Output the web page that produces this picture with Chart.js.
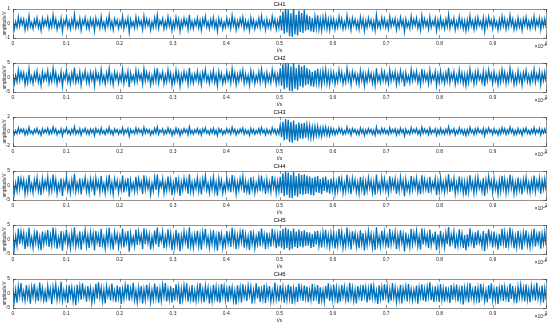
<!DOCTYPE html>
<html>
<head>
<meta charset="utf-8">
<script src="https://cdn.jsdelivr.net/npm/chart.js@4"></script>
<style>
html, body { margin: 0; padding: 0; background: #fff; }
canvas { display: block; }
</style>
</head>
<body>
<canvas id="c1" width="550" height="54"></canvas>
<canvas id="c2" width="550" height="54"></canvas>
<canvas id="c3" width="550" height="54"></canvas>
<canvas id="c4" width="550" height="54"></canvas>
<canvas id="c5" width="550" height="54"></canvas>
<canvas id="c6" width="550" height="54"></canvas>
<script>
// 六チャンネルの波形 (t は 0..1 ×10^-4 s, 400 点)
const ch1 = [
  0.21,-0.38,0.12,-0.27,0.45,-0.18,0.33,-0.09,0.29,-0.42,0.16,-0.31,0.52,-0.22,0.07,-0.35,0.26,-0.14,0.39,-0.28,
  0.11,-0.47,0.34,-0.2,0.23,-0.12,0.41,-0.33,0.18,-0.25,0.58,-0.16,0.3,-0.4,0.09,-0.21,0.36,-0.54,0.2,-0.11,
  0.44,-0.26,0.15,-0.37,0.27,-0.19,0.62,-0.3,0.13,-0.24,0.35,-0.45,0.22,-0.08,0.4,-0.29,0.17,-0.36,0.31,-0.15,
  0.25,-0.5,0.38,-0.13,0.19,-0.32,0.47,-0.23,0.1,-0.39,0.28,-0.17,0.55,-0.27,0.14,-0.43,0.32,-0.1,0.24,-0.34,
  0.16,-0.22,0.49,-0.35,0.2,-0.14,0.37,-0.6,0.26,-0.19,0.12,-0.3,0.43,-0.24,0.33,-0.12,0.18,-0.41,0.5,-0.2,
  0.3,-0.16,0.23,-0.44,0.11,-0.28,0.39,-0.21,0.57,-0.33,0.19,-0.09,0.34,-0.37,0.14,-0.26,0.46,-0.18,0.27,-0.48,
  0.13,-0.31,0.42,-0.2,0.29,-0.53,0.17,-0.25,0.36,-0.12,0.24,-0.4,0.6,-0.27,0.15,-0.34,0.22,-0.16,0.38,-0.29,
  0.2,-0.45,0.31,-0.11,0.48,-0.23,0.12,-0.36,0.27,-0.19,0.41,-0.3,0.16,-0.52,0.35,-0.14,0.25,-0.38,0.09,-0.26,
  0.37,-0.18,0.22,-0.33,0.54,-0.15,0.28,-0.42,0.17,-0.24,0.33,-0.1,0.44,-0.35,0.21,-0.29,0.14,-0.47,0.4,-0.2,
  0.26,-0.37,0.13,-0.22,0.35,-0.28,0.5,-0.17,0.19,-0.43,0.3,-0.25,0.16,-0.32,0.47,-0.13,0.28,-0.39,0.2,-0.3,
  0.55,-0.48,0.82,-0.7,1.12,-0.62,0.95,-0.88,0.7,-0.93,1.08,-0.75,0.6,-0.82,0.9,-0.58,0.72,-0.66,0.94,-0.5,
  0.62,-0.45,0.5,-0.55,0.38,-0.6,0.47,-0.33,0.56,-0.4,0.3,-0.48,0.42,-0.25,0.52,-0.36,0.28,-0.44,0.35,-0.22,
  0.3,-0.41,0.18,-0.27,0.46,-0.15,0.33,-0.37,0.12,-0.29,0.55,-0.2,0.24,-0.44,0.36,-0.11,0.27,-0.32,0.15,-0.4,
  0.43,-0.19,0.29,-0.5,0.2,-0.26,0.38,-0.14,0.25,-0.35,0.17,-0.46,0.58,-0.23,0.13,-0.3,0.4,-0.18,0.32,-0.27,
  0.15,-0.36,0.47,-0.21,0.26,-0.12,0.34,-0.43,0.19,-0.28,0.41,-0.16,0.23,-0.55,0.3,-0.24,0.11,-0.33,0.49,-0.2,
  0.28,-0.15,0.37,-0.31,0.14,-0.45,0.52,-0.22,0.31,-0.18,0.2,-0.38,0.44,-0.27,0.16,-0.13,0.35,-0.49,0.22,-0.3,
  0.4,-0.24,0.17,-0.35,0.29,-0.2,0.6,-0.32,0.21,-0.12,0.36,-0.42,0.13,-0.28,0.45,-0.19,0.27,-0.37,0.18,-0.5,
  0.24,-0.33,0.51,-0.16,0.19,-0.4,0.32,-0.26,0.42,-0.14,0.15,-0.3,0.38,-0.53,0.28,-0.2,0.46,-0.11,0.23,-0.36,
  0.35,-0.21,0.12,-0.44,0.27,-0.29,0.48,-0.17,0.33,-0.38,0.2,-0.25,0.56,-0.15,0.3,-0.41,0.14,-0.34,0.39,-0.23,
  0.19,-0.46,0.31,-0.13,0.43,-0.27,0.16,-0.35,0.25,-0.2,0.5,-0.31,0.22,-0.16,0.37,-0.42,0.26,-0.19,0.33,-0.28
];
const ch2 = [
  1.2,-2.1,0.7,-1.5,2.6,-1.0,1.9,-0.6,1.6,-2.4,0.9,-1.8,3.0,-1.3,0.5,-2.0,1.5,-0.8,2.2,-1.6,
  0.6,-2.7,1.9,-1.1,1.3,-0.7,2.3,-1.9,1.0,-1.4,3.2,-0.9,1.7,-2.3,0.5,-1.2,2.0,-3.0,1.1,-0.6,
  2.5,-1.5,0.8,-2.1,1.5,-1.1,3.4,-1.7,0.7,-1.4,2.0,-2.6,1.2,-0.5,2.3,-1.6,1.0,-2.0,1.8,-0.9,
  1.4,-2.8,2.1,-0.7,1.1,-1.8,2.7,-1.3,0.6,-2.2,1.6,-1.0,3.1,-1.5,0.8,-2.4,1.8,-0.6,1.4,-1.9,
  0.9,-1.2,2.8,-2.0,1.1,-0.8,2.1,-3.3,1.5,-1.1,0.7,-1.7,2.4,-1.4,1.9,-0.7,1.0,-2.3,2.9,-1.1,
  1.7,-0.9,1.3,-2.5,0.6,-1.6,2.2,-1.2,3.2,-1.9,1.1,-0.5,1.9,-2.1,0.8,-1.5,2.6,-1.0,1.5,-2.7,
  0.7,-1.8,2.4,-1.1,1.6,-3.0,1.0,-1.4,2.0,-0.7,1.4,-2.3,3.3,-1.5,0.9,-1.9,1.2,-0.9,2.1,-1.6,
  1.1,-2.5,1.8,-0.6,2.7,-1.3,0.7,-2.0,1.5,-1.1,2.3,-1.7,0.9,-2.9,2.0,-0.8,1.4,-2.1,0.5,-1.5,
  2.1,-1.0,1.2,-1.9,3.0,-0.9,1.6,-2.4,1.0,-1.4,1.9,-0.6,2.5,-2.0,1.2,-1.6,0.8,-2.6,2.3,-1.1,
  1.5,-2.1,0.7,-1.2,2.0,-1.6,2.8,-1.0,1.1,-2.4,1.7,-1.4,0.9,-1.8,2.7,-0.7,1.6,-2.2,1.1,-1.7,
  3.2,-2.8,4.6,-4.0,5.5,-3.5,4.9,-4.6,3.8,-4.8,5.3,-3.9,3.2,-4.3,4.5,-3.0,3.8,-3.4,4.2,-2.7,
  3.3,-2.4,2.7,-3.0,2.0,-3.2,2.5,-1.8,3.0,-2.2,1.7,-2.6,2.3,-1.4,2.8,-2.0,1.6,-2.4,1.9,-1.2,
  1.7,-2.3,1.0,-1.5,2.6,-0.8,1.9,-2.1,0.7,-1.6,3.1,-1.1,1.3,-2.5,2.0,-0.6,1.5,-1.8,0.9,-2.2,
  2.4,-1.1,1.6,-2.8,1.1,-1.5,2.1,-0.8,1.4,-2.0,1.0,-2.6,3.2,-1.3,0.7,-1.7,2.2,-1.0,1.8,-1.5,
  0.8,-2.0,2.6,-1.2,1.5,-0.7,1.9,-2.4,1.1,-1.6,2.3,-0.9,1.3,-3.1,1.7,-1.3,0.6,-1.8,2.7,-1.1,
  1.6,-0.8,2.1,-1.7,0.8,-2.5,2.9,-1.2,1.7,-1.0,1.1,-2.1,2.5,-1.5,0.9,-0.7,2.0,-2.7,1.2,-1.7,
  2.2,-1.3,1.0,-2.0,1.6,-1.1,3.3,-1.8,1.2,-0.7,2.0,-2.3,0.7,-1.6,2.5,-1.1,1.5,-2.1,1.0,-2.8,
  1.3,-1.8,2.9,-0.9,1.1,-2.2,1.8,-1.5,2.3,-0.8,0.8,-1.7,2.1,-3.0,1.6,-1.1,2.6,-0.6,1.3,-2.0,
  2.0,-1.2,0.7,-2.5,1.5,-1.6,2.7,-1.0,1.8,-2.1,1.1,-1.4,3.1,-0.8,1.7,-2.3,0.8,-1.9,2.2,-1.3,
  1.1,-2.6,1.7,-0.7,2.4,-1.5,0.9,-2.0,1.4,-1.1,2.8,-1.7,1.2,-0.9,2.1,-2.4,1.5,-1.1,1.9,-1.6
];
const ch3 = [
  0.24,-0.4,0.13,-0.3,0.5,-0.2,0.36,-0.1,0.31,-0.45,0.17,-0.34,0.58,-0.24,0.08,-0.38,0.28,-0.15,0.42,-0.3,
  0.12,-0.52,0.37,-0.22,0.25,-0.13,0.45,-0.36,0.2,-0.27,0.62,-0.18,0.33,-0.44,0.1,-0.23,0.39,-0.58,0.22,-0.12,
  0.48,-0.28,0.16,-0.4,0.3,-0.21,0.66,-0.33,0.14,-0.26,0.38,-0.49,0.24,-0.09,0.43,-0.32,0.19,-0.39,0.34,-0.16,
  0.27,-0.54,0.41,-0.14,0.21,-0.35,0.51,-0.25,0.11,-0.42,0.3,-0.19,0.6,-0.29,0.15,-0.47,0.35,-0.11,0.26,-0.37,
  0.18,-0.24,0.53,-0.38,0.22,-0.15,0.4,-0.65,0.28,-0.21,0.13,-0.33,0.47,-0.26,0.36,-0.13,0.2,-0.45,0.55,-0.22,
  0.33,-0.17,0.25,-0.48,0.12,-0.3,0.42,-0.23,0.62,-0.36,0.21,-0.1,0.37,-0.4,0.15,-0.28,0.5,-0.2,0.29,-0.52,
  0.14,-0.34,0.46,-0.22,0.32,-0.57,0.18,-0.27,0.39,-0.13,0.26,-0.44,0.65,-0.29,0.16,-0.37,0.24,-0.17,0.41,-0.31,
  0.22,-0.49,0.34,-0.12,0.52,-0.25,0.13,-0.39,0.29,-0.21,0.45,-0.33,0.17,-0.56,0.38,-0.15,0.27,-0.41,0.1,-0.28,
  0.4,-0.2,0.24,-0.36,0.58,-0.16,0.3,-0.46,0.18,-0.26,0.36,-0.11,0.48,-0.38,0.23,-0.31,0.15,-0.51,0.43,-0.22,
  0.28,-0.4,0.14,-0.24,0.38,-0.3,0.54,-0.18,0.21,-0.47,0.32,-0.27,0.17,-0.35,0.51,-0.14,0.3,-0.42,0.22,-0.33,
  0.9,-0.8,1.35,-1.2,1.72,-1.05,1.6,-1.45,1.3,-1.55,1.5,-1.2,1.0,-1.3,1.25,-0.95,1.1,-1.0,1.15,-0.85,
  0.92,-0.7,0.8,-0.85,0.62,-0.78,0.7,-0.55,0.74,-0.6,0.48,-0.66,0.58,-0.4,0.62,-0.5,0.42,-0.55,0.46,-0.34,
  0.33,-0.44,0.2,-0.29,0.5,-0.16,0.36,-0.4,0.13,-0.31,0.6,-0.22,0.26,-0.48,0.39,-0.12,0.29,-0.35,0.16,-0.43,
  0.47,-0.21,0.31,-0.54,0.22,-0.28,0.41,-0.15,0.27,-0.38,0.18,-0.5,0.63,-0.25,0.14,-0.33,0.44,-0.2,0.35,-0.29,
  0.16,-0.39,0.51,-0.23,0.28,-0.13,0.37,-0.47,0.21,-0.3,0.45,-0.17,0.25,-0.6,0.33,-0.26,0.12,-0.36,0.53,-0.22,
  0.3,-0.16,0.4,-0.34,0.15,-0.49,0.57,-0.24,0.34,-0.2,0.22,-0.41,0.48,-0.29,0.17,-0.14,0.38,-0.53,0.24,-0.33,
  0.44,-0.26,0.18,-0.38,0.31,-0.22,0.65,-0.35,0.23,-0.13,0.39,-0.46,0.14,-0.3,0.49,-0.21,0.29,-0.4,0.2,-0.55,
  0.26,-0.36,0.56,-0.17,0.21,-0.44,0.35,-0.28,0.46,-0.15,0.16,-0.33,0.41,-0.58,0.3,-0.22,0.5,-0.12,0.25,-0.39,
  0.38,-0.23,0.13,-0.48,0.29,-0.32,0.52,-0.18,0.36,-0.41,0.22,-0.27,0.61,-0.16,0.33,-0.45,0.15,-0.37,0.42,-0.25,
  0.21,-0.5,0.34,-0.14,0.47,-0.29,0.17,-0.38,0.27,-0.22,0.54,-0.34,0.24,-0.17,0.4,-0.46,0.28,-0.21,0.36,-0.3
];
const ch4 = [
  1.5,-2.6,0.9,-1.9,3.2,-1.3,2.4,-0.7,2.0,-2.9,1.1,-2.2,3.6,-1.6,0.6,-2.5,1.9,-1.0,2.7,-2.0,
  0.8,-3.3,2.4,-1.4,1.6,-0.9,2.9,-2.3,1.3,-1.8,3.8,-1.1,2.1,-2.8,0.7,-1.5,2.5,-3.6,1.4,-0.8,
  3.0,-1.8,1.0,-2.6,1.9,-1.3,4.0,-2.1,0.9,-1.7,2.5,-3.1,1.5,-0.6,2.8,-2.0,1.2,-2.5,2.2,-1.1,
  1.7,-3.4,2.6,-0.9,1.4,-2.3,3.3,-1.6,0.7,-2.7,2.0,-1.2,3.7,-1.9,1.0,-3.0,2.2,-0.7,1.7,-2.4,
  1.1,-1.5,3.4,-2.4,1.4,-1.0,2.6,-3.9,1.8,-1.4,0.8,-2.1,3.0,-1.7,2.3,-0.8,1.3,-2.9,3.5,-1.4,
  2.1,-1.1,1.6,-3.0,0.8,-1.9,2.7,-1.5,3.8,-2.3,1.3,-0.6,2.4,-2.6,1.0,-1.8,3.1,-1.3,1.9,-3.3,
  0.9,-2.2,2.9,-1.4,2.0,-3.6,1.2,-1.7,2.5,-0.9,1.7,-2.8,3.9,-1.9,1.1,-2.4,1.5,-1.1,2.6,-2.0,
  1.4,-3.1,2.2,-0.7,3.3,-1.6,0.8,-2.5,1.9,-1.3,2.9,-2.1,1.1,-3.5,2.4,-1.0,1.7,-2.6,0.6,-1.9,
  2.6,-1.2,1.5,-2.3,3.6,-1.1,2.0,-2.9,1.2,-1.7,2.3,-0.7,3.1,-2.5,1.5,-2.0,1.0,-3.2,2.8,-1.4,
  1.8,-2.6,0.9,-1.5,2.5,-2.0,3.4,-1.2,1.4,-2.9,2.1,-1.7,1.1,-2.2,3.3,-0.9,2.0,-2.7,1.4,-2.1,
  3.0,-2.6,4.2,-3.7,4.8,-3.3,4.5,-4.2,3.6,-4.4,4.7,-3.5,3.2,-3.9,4.1,-3.0,3.6,-3.3,3.9,-2.9,
  3.4,-2.7,3.1,-3.3,2.6,-3.4,3.0,-2.3,3.3,-2.6,2.2,-3.0,2.8,-1.9,3.1,-2.4,2.0,-2.8,2.4,-1.7,
  2.1,-2.8,1.2,-1.9,3.2,-1.0,2.3,-2.6,0.9,-2.0,3.7,-1.4,1.6,-3.0,2.5,-0.8,1.9,-2.2,1.1,-2.7,
  2.9,-1.4,2.0,-3.4,1.4,-1.8,2.6,-1.0,1.7,-2.5,1.2,-3.2,3.8,-1.6,0.9,-2.1,2.7,-1.3,2.2,-1.8,
  1.0,-2.5,3.2,-1.5,1.8,-0.9,2.3,-2.9,1.3,-2.0,2.8,-1.1,1.6,-3.7,2.1,-1.6,0.8,-2.3,3.3,-1.4,
  2.0,-1.0,2.6,-2.1,1.0,-3.0,3.5,-1.5,2.1,-1.3,1.4,-2.6,3.0,-1.8,1.1,-0.9,2.4,-3.3,1.5,-2.1,
  2.7,-1.6,1.2,-2.4,2.0,-1.4,3.9,-2.2,1.5,-0.9,2.4,-2.8,0.9,-2.0,3.1,-1.3,1.8,-2.6,1.3,-3.4,
  1.6,-2.2,3.5,-1.1,1.3,-2.7,2.2,-1.8,2.8,-1.0,1.0,-2.1,2.6,-3.6,1.9,-1.4,3.1,-0.8,1.6,-2.4,
  2.4,-1.5,0.9,-3.0,1.8,-2.0,3.3,-1.2,2.2,-2.6,1.4,-1.7,3.7,-1.0,2.0,-2.8,1.0,-2.3,2.7,-1.6,
  1.3,-3.1,2.1,-0.9,2.9,-1.8,1.1,-2.4,1.7,-1.4,3.4,-2.1,1.5,-1.1,2.5,-2.9,1.8,-1.3,2.3,-1.9
];
const ch5 = [
  1.8,-3.0,1.1,-2.2,3.7,-1.5,2.7,-0.8,2.3,-3.3,1.3,-2.5,4.0,-1.8,0.7,-2.8,2.2,-1.2,3.1,-2.3,
  0.9,-3.7,2.7,-1.6,1.9,-1.0,3.3,-2.6,1.5,-2.0,4.1,-1.3,2.4,-3.2,0.8,-1.7,2.9,-3.9,1.6,-0.9,
  3.4,-2.1,1.2,-2.9,2.2,-1.5,4.2,-2.4,1.0,-1.9,2.8,-3.5,1.7,-0.7,3.2,-2.3,1.4,-2.9,2.5,-1.2,
  2.0,-3.8,3.0,-1.0,1.6,-2.6,3.7,-1.8,0.8,-3.1,2.3,-1.4,4.0,-2.1,1.1,-3.4,2.5,-0.8,1.9,-2.7,
  1.3,-1.7,3.8,-2.7,1.6,-1.1,2.9,-4.2,2.0,-1.6,0.9,-2.3,3.4,-1.9,2.6,-0.9,1.5,-3.3,3.9,-1.6,
  2.4,-1.2,1.8,-3.4,0.9,-2.1,3.1,-1.7,4.1,-2.6,1.5,-0.7,2.7,-3.0,1.1,-2.0,3.5,-1.4,2.1,-3.7,
  1.0,-2.5,3.3,-1.6,2.3,-4.0,1.3,-1.9,2.8,-1.0,1.9,-3.2,4.2,-2.2,1.2,-2.7,1.7,-1.3,3.0,-2.3,
  1.6,-3.5,2.5,-0.8,3.7,-1.8,0.9,-2.8,2.1,-1.5,3.2,-2.4,1.2,-3.9,2.7,-1.1,1.9,-2.9,0.7,-2.1,
  2.9,-1.4,1.7,-2.6,4.0,-1.2,2.2,-3.3,1.4,-1.9,2.6,-0.8,3.5,-2.8,1.7,-2.2,1.1,-3.6,3.1,-1.5,
  2.0,-2.9,1.0,-1.7,2.8,-2.3,3.8,-1.3,1.6,-3.3,2.4,-1.9,1.3,-2.5,3.7,-1.0,2.2,-3.0,1.6,-2.4,
  3.0,-2.8,3.6,-3.4,4.1,-2.9,3.5,-3.7,2.9,-3.2,3.8,-2.6,2.7,-3.0,3.4,-2.4,2.8,-2.7,3.2,-2.2,
  2.6,-2.1,2.4,-2.9,1.9,-2.6,2.8,-1.7,3.0,-2.2,1.6,-2.7,2.5,-1.4,3.3,-2.0,1.5,-2.6,2.2,-1.5,
  2.4,-3.1,1.4,-2.1,3.6,-1.1,2.6,-2.9,1.0,-2.2,4.1,-1.6,1.8,-3.4,2.8,-0.9,2.1,-2.5,1.2,-3.0,
  3.2,-1.6,2.2,-3.8,1.6,-2.0,2.9,-1.1,1.9,-2.8,1.3,-3.6,4.2,-1.8,1.0,-2.3,3.0,-1.4,2.5,-2.0,
  1.1,-2.8,3.6,-1.7,2.0,-1.0,2.6,-3.3,1.5,-2.2,3.2,-1.2,1.8,-4.1,2.3,-1.8,0.9,-2.6,3.7,-1.6,
  2.2,-1.1,2.9,-2.4,1.1,-3.4,3.9,-1.7,2.4,-1.4,1.6,-2.9,3.4,-2.0,1.2,-1.0,2.7,-3.7,1.7,-2.3,
  3.0,-1.8,1.3,-2.7,2.2,-1.6,4.3,-2.5,1.7,-1.0,2.7,-3.1,1.0,-2.2,3.5,-1.5,2.0,-2.9,1.5,-3.8,
  1.8,-2.5,3.9,-1.2,1.5,-3.0,2.5,-2.0,3.1,-1.1,1.1,-2.4,2.9,-4.0,2.1,-1.6,3.5,-0.9,1.8,-2.7,
  2.7,-1.7,1.0,-3.4,2.0,-2.2,3.7,-1.3,2.5,-2.9,1.6,-1.9,4.1,-1.1,2.2,-3.1,1.1,-2.6,3.0,-1.8,
  1.5,-3.5,2.4,-1.0,3.2,-2.0,1.2,-2.7,1.9,-1.6,3.8,-2.4,1.7,-1.2,2.8,-3.2,2.0,-1.5,2.6,-2.1
];
const ch6 = [
  2.0,-2.7,1.3,-3.2,2.5,-1.0,3.6,-1.9,0.8,-2.4,2.9,-1.4,1.7,-3.5,2.2,-1.1,3.3,-2.0,1.2,-2.6,
  3.8,-1.5,1.9,-2.3,0.9,-3.0,2.6,-1.2,1.6,-3.7,2.3,-0.8,3.1,-2.2,1.4,-1.8,4.0,-2.5,1.0,-2.0,
  1.7,-3.3,2.8,-1.1,2.1,-2.6,1.2,-4.0,3.0,-1.6,2.4,-2.1,3.5,-0.9,1.5,-2.8,2.6,-1.4,1.9,-3.1,
  1.1,-2.2,3.3,-1.8,3.9,-1.3,2.0,-2.7,1.4,-3.4,2.5,-1.0,1.8,-2.4,3.4,-1.7,1.0,-2.9,2.7,-1.5,
  2.3,-3.6,1.5,-1.9,2.8,-0.9,3.2,-2.5,1.7,-1.4,3.7,-2.3,1.1,-3.0,2.1,-1.6,2.6,-3.4,1.4,-2.2,
  3.0,-1.3,2.2,-2.9,1.2,-2.1,3.4,-1.5,2.4,-3.2,1.6,-2.4,2.9,-1.0,3.6,-2.7,1.5,-2.0,2.5,-3.1,
  1.9,-2.4,3.2,-1.4,2.3,-3.7,1.6,-2.2,2.7,-1.1,3.5,-2.8,1.3,-2.0,2.9,-3.0,1.0,-2.5,2.2,-1.7,
  3.6,-2.0,1.4,-3.1,2.6,-1.2,2.0,-3.4,1.1,-2.6,3.0,-1.6,2.2,-2.8,1.5,-3.2,3.3,-1.0,2.4,-2.3,
  1.6,-2.9,2.7,-1.3,2.1,-2.5,1.0,-3.8,2.8,-1.8,2.0,-3.1,3.2,-1.2,1.7,-2.6,2.6,-0.9,2.3,-3.4,
  1.2,-2.1,3.5,-1.7,2.4,-2.9,1.4,-2.0,3.0,-3.3,2.1,-1.4,2.6,-2.8,0.9,-2.2,3.8,-1.9,1.6,-2.7,
  2.8,-1.5,2.2,-3.2,1.3,-2.2,3.1,-1.8,2.5,-3.5,1.7,-2.3,2.3,-2.9,3.4,-1.1,2.0,-2.6,2.7,-1.6,
  2.4,-3.0,1.2,-2.1,3.3,-2.6,1.9,-1.4,2.9,-3.6,2.1,-2.4,1.1,-2.8,2.6,-1.8,3.5,-2.6,1.8,-2.1,
  3.1,-1.9,2.0,-3.3,1.5,-2.7,2.9,-1.2,2.3,-2.2,1.4,-3.0,3.7,-1.6,2.0,-2.5,1.3,-3.4,2.6,-1.3,
  1.8,-2.6,3.0,-1.0,2.2,-3.1,1.6,-2.3,3.4,-1.5,2.5,-2.0,1.0,-3.6,2.8,-1.7,2.1,-2.4,3.2,-1.1,
  2.5,-3.2,1.4,-2.5,3.6,-1.4,2.0,-2.9,1.2,-2.1,3.0,-3.4,1.8,-1.3,2.4,-2.7,3.3,-1.8,1.5,-2.4,
  1.3,-1.8,2.7,-3.5,2.1,-1.2,3.2,-2.4,1.6,-2.8,2.3,-1.1,3.9,-2.3,1.4,-3.0,2.5,-1.5,2.0,-2.9,
  3.3,-2.2,1.7,-2.8,2.4,-1.7,1.2,-3.3,2.9,-2.1,2.2,-1.4,3.1,-2.7,1.5,-2.0,2.7,-3.8,1.9,-1.6,
  2.2,-3.1,3.6,-1.5,1.3,-2.4,2.6,-2.0,1.9,-3.2,3.3,-1.2,2.0,-2.6,1.1,-3.0,2.8,-1.9,3.5,-2.2,
  1.5,-2.3,2.4,-3.6,1.9,-1.3,3.0,-2.6,2.2,-1.7,1.4,-2.9,3.4,-1.9,2.6,-2.3,1.2,-3.3,2.3,-1.4,
  2.9,-1.6,1.8,-2.7,3.2,-2.1,1.4,-3.0,2.5,-1.2,2.0,-2.5,3.7,-1.8,1.3,-2.4,2.7,-3.1,1.8,-2.2
];

const channelNames = ['CH1', 'CH2', 'CH3', 'CH4', 'CH5', 'CH6'];
const channelData = [ch1, ch2, ch3, ch4, ch5, ch6];
const yLimits = [1, 5, 2, 5, 5, 5];
const tMax = 1; // ×10^-4 s

Chart.defaults.font.family = 'Liberation Sans, Arial, sans-serif';
Chart.defaults.color = '#262626';

const axisColor = '#262626';

// MATLAB風の内向き目盛りと指数表記
const matlabAxes = {
  id: 'matlabAxes',
  afterDatasetsDraw(chart) {
    const { ctx, chartArea: a, scales } = chart;
    ctx.save();
    ctx.strokeStyle = axisColor;
    ctx.lineWidth = 0.5;
    ctx.beginPath();
    scales.x.ticks.forEach(t => {
      const px = Math.round(scales.x.getPixelForValue(t.value)) + 0.5;
      ctx.moveTo(px, a.bottom); ctx.lineTo(px, a.bottom - 3);
      ctx.moveTo(px, a.top); ctx.lineTo(px, a.top + 3);
    });
    scales.y.ticks.forEach(t => {
      const py = Math.round(scales.y.getPixelForValue(t.value)) + 0.5;
      ctx.moveTo(a.left, py); ctx.lineTo(a.left + 3, py);
      ctx.moveTo(a.right, py); ctx.lineTo(a.right - 3, py);
    });
    ctx.stroke();
    ctx.fillStyle = axisColor;
    ctx.textAlign = 'right';
    ctx.textBaseline = 'alphabetic';
    ctx.font = '3.5px Liberation Sans';
    ctx.fillText('-4', a.right, a.bottom + 8);
    const w = ctx.measureText('-4').width;
    ctx.font = '5px Liberation Sans';
    ctx.fillText('\u00d710', a.right - w, a.bottom + 10);
    ctx.restore();
  }
};

channelData.forEach((values, k) => {
  const t = values.map((_, i) => i * tMax / (values.length - 1));
  const lim = yLimits[k];
  new Chart(document.getElementById('c' + (k + 1)), {
    type: 'line',
    data: {
      datasets: [{
        data: values.map((v, i) => ({ x: t[i], y: v })),
        borderColor: '#0072BD',
        borderWidth: 1.3,
        pointRadius: 0,
        tension: 0,
        clip: 0
      }]
    },
    options: {
      responsive: false,
      animation: false,
      events: [],
      layout: { padding: 0 },
      plugins: { legend: { display: false }, tooltip: { enabled: false } },
      scales: {
        x: {
          type: 'linear', position: 'bottom', min: 0, max: tMax,
          grid: { display: false, drawTicks: false },
          border: { display: true, color: axisColor, width: 0.5 },
          ticks: {
            stepSize: 0.1, autoSkip: false, maxRotation: 0, padding: 2.5,
            font: { size: 5 },
            callback: v => String(+v.toFixed(1))
          },
          title: { display: true, text: 't/s', font: { size: 5 }, padding: 0 },
          afterFit: s => { s.height = 16; }
        },
        x2: {
          type: 'linear', position: 'top', min: 0, max: tMax,
          grid: { display: false, drawTicks: false },
          border: { display: true, color: axisColor, width: 0.5 },
          ticks: { display: false },
          title: { display: true, text: channelNames[k], font: { size: 6 }, color: '#000', padding: { top: 1, bottom: 0 } },
          afterFit: s => { s.height = 9; }
        },
        y: {
          type: 'linear', position: 'left', min: -lim, max: lim,
          grid: { display: false, drawTicks: false },
          border: { display: true, color: axisColor, width: 0.5 },
          ticks: { stepSize: lim, padding: 3, font: { size: 5 }, callback: v => String(v) },
          title: { display: true, text: 'amplitude/V', font: { size: 4.5 }, padding: { top: 2, bottom: 0 } },
          afterFit: s => { s.width = 13; }
        },
        y2: {
          type: 'linear', position: 'right', min: -lim, max: lim,
          grid: { display: false, drawTicks: false },
          border: { display: true, color: axisColor, width: 0.5 },
          ticks: { display: false },
          afterFit: s => { s.width = 2; }
        }
      }
    },
    plugins: [matlabAxes]
  });
});
</script>
</body>
</html>
